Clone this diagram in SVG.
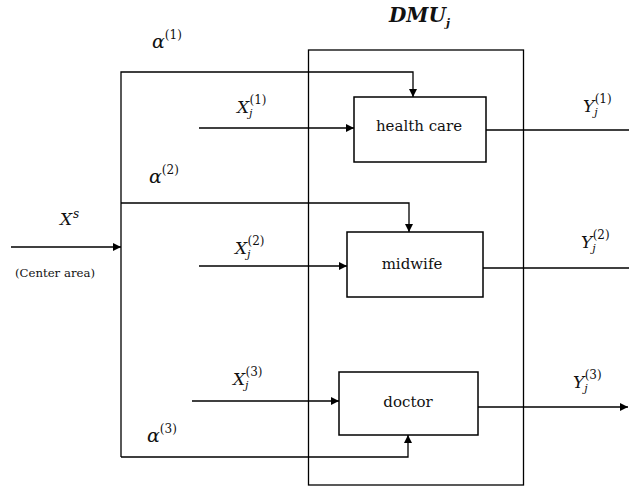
<svg xmlns="http://www.w3.org/2000/svg" width="629" height="489" viewBox="0 0 629 489">
<defs>
<marker id="ah" viewBox="0 0 10 10" refX="10" refY="5" markerWidth="8" markerHeight="8" markerUnits="userSpaceOnUse" orient="auto">
<path d="M0,0 L10,5 L0,10 z" fill="#000"/>
</marker>
<style>
.ln{fill:none;stroke:#000;stroke-width:1.3}
.bx{fill:#fff;stroke:#000;stroke-width:1.5}
.nt{font-family:'DejaVu Serif',serif;font-size:15px;fill:#111;text-anchor:middle}
.mt{font-family:'DejaVu Serif',serif;font-style:italic;font-size:17px;fill:#111}
.al{font-size:19px}
.sup{font-size:12px;font-style:normal}
.sub{font-size:11px}
.ttl{font-family:'DejaVu Serif',serif;font-style:italic;font-weight:bold;font-size:20px;fill:#111}
.sm{font-family:'DejaVu Serif',serif;font-size:11px;fill:#111}
</style>
</defs>
<rect width="629" height="489" fill="#fff"/>
<g id="dmu">
<rect x="308.5" y="50" width="215" height="435" class="ln"/>
<text class="ttl" x="389" y="22">DMU<tspan class="sub" dy="5">j</tspan></text>
</g>
<g id="connectors">
<polyline class="ln" points="121,457 121,72 413,72 413,97" marker-end="url(#ah)"/>
<polyline class="ln" points="121,203 409,203 409,232" marker-end="url(#ah)"/>
<polyline class="ln" points="121,457 408,457 408,435" marker-end="url(#ah)"/>
<line class="ln" x1="11" y1="247" x2="121" y2="247" marker-end="url(#ah)"/>
<line class="ln" x1="199" y1="128" x2="354" y2="128" marker-end="url(#ah)"/>
<line class="ln" x1="199" y1="266" x2="347" y2="266" marker-end="url(#ah)"/>
<line class="ln" x1="192" y1="401" x2="339" y2="401" marker-end="url(#ah)"/>
<line class="ln" x1="486" y1="130" x2="629" y2="130"/>
<line class="ln" x1="483" y1="268" x2="629" y2="268"/>
<line class="ln" x1="478" y1="407" x2="628" y2="407" marker-end="url(#ah)"/>
</g>
<g id="health-care">
<rect class="bx" x="354" y="97" width="132" height="65"/>
<text class="nt" x="419" y="131">health care</text>
</g>
<g id="midwife">
<rect class="bx" x="347" y="232" width="136" height="65"/>
<text class="nt" x="412" y="269">midwife</text>
</g>
<g id="doctor">
<rect class="bx" x="339" y="372" width="139" height="63"/>
<text class="nt" x="408" y="407">doctor</text>
</g>
<g id="labels">
<text class="mt al" x="152" y="48">α<tspan class="sup" dy="-9">(1)</tspan></text>
<text class="mt al" x="149" y="183">α<tspan class="sup" dy="-9">(2)</tspan></text>
<text class="mt al" x="147" y="442">α<tspan class="sup" dy="-9">(3)</tspan></text>
<text class="mt" x="60" y="225">X<tspan dx="1" dy="-7" style="font-size:12px;font-style:italic">s</tspan></text>
<text class="sm" x="15" y="277" textLength="80" lengthAdjust="spacingAndGlyphs">(Center area)</text>
<text class="mt" x="237" y="113">X<tspan class="sub" dy="4">j</tspan><tspan class="sup" dx="-3" dy="-13">(1)</tspan></text>
<text class="mt" x="235" y="254">X<tspan class="sub" dy="4">j</tspan><tspan class="sup" dx="-3" dy="-13">(2)</tspan></text>
<text class="mt" x="233" y="385">X<tspan class="sub" dy="4">j</tspan><tspan class="sup" dx="-3" dy="-13">(3)</tspan></text>
<text class="mt" x="583" y="112">Y<tspan class="sub" dy="4">j</tspan><tspan class="sup" dx="-3" dy="-13">(1)</tspan></text>
<text class="mt" x="581" y="248">Y<tspan class="sub" dy="4">j</tspan><tspan class="sup" dx="-3" dy="-13">(2)</tspan></text>
<text class="mt" x="573" y="388">Y<tspan class="sub" dy="4">j</tspan><tspan class="sup" dx="-3" dy="-13">(3)</tspan></text>
</g>
</svg>
